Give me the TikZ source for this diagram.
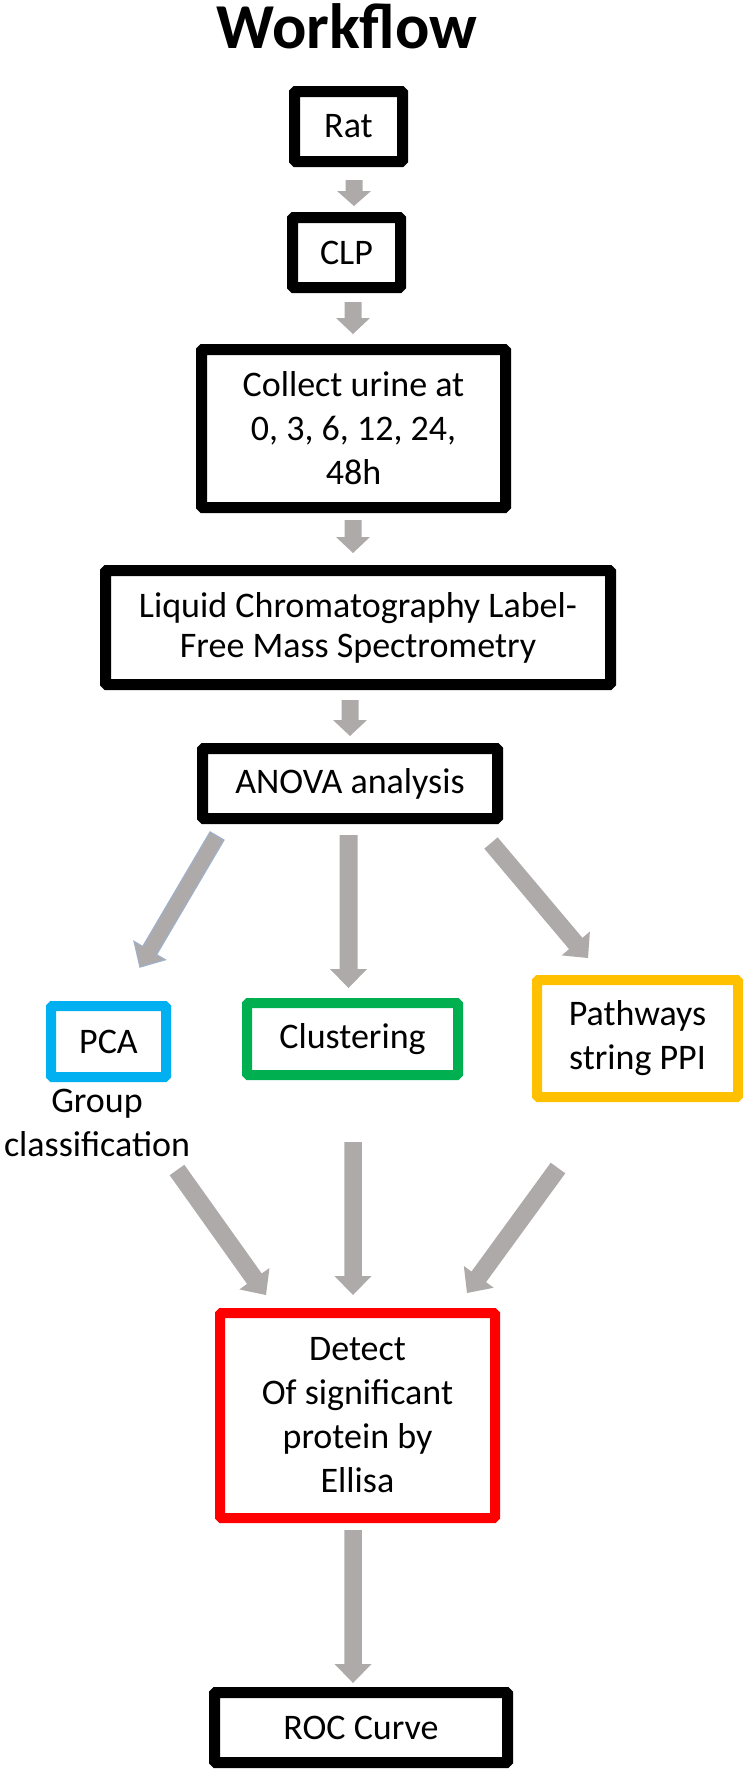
\documentclass[tikz,border=0pt]{standalone}
\usepackage{fontspec}
\setmainfont{Carlito}
\usetikzlibrary{calc}
\definecolor{arrowgray}{RGB}{174,170,170}
\definecolor{pcablue}{RGB}{0,176,240}
\definecolor{clgreen}{RGB}{0,176,80}
\definecolor{pathyellow}{RGB}{255,192,0}
\definecolor{detred}{RGB}{255,0,0}
\definecolor{outlineblue}{RGB}{160,176,200}
\newcommand\bodyfont{\fontsize{36}{44}\selectfont}
\newcommand\blockarr[6][]{%
  \coordinate (#3-hb) at ($(#3)!#6!(#2)$);
  \fill[arrowfill,#1] ($(#2)!#4!90:(#3)$) -- ($(#3-hb)!#4!90:(#3)$) -- ($(#3-hb)!#5!90:(#3)$) -- (#3) -- ($(#3-hb)!#5!-90:(#3)$) -- ($(#3-hb)!#4!-90:(#3)$) -- ($(#2)!#4!-90:(#3)$) -- cycle;
}
\tikzset{
  blackbox/.style={draw=black, line width=11pt, rounded corners=1.5pt, inner sep=0pt, align=center, font=\bodyfont},
  colorbox/.style={draw=#1, line width=10pt, rounded corners=1.5pt, inner sep=0pt, align=center, font=\bodyfont},
  plaintext/.style={inner sep=0pt, align=center, font=\bodyfont},
  titletext/.style={inner sep=0pt, font=\fontsize{64}{70}\selectfont\bfseries},
  arrowfill/.style={fill=arrowgray},
  outlined/.style={draw=outlineblue, line width=1.3pt},
}
\begin{document}
\begin{tikzpicture}[x=1pt,y=-1pt]
\useasboundingbox (0,0) rectangle (746,1772);

\node[titletext, anchor=base] (title) at (347,48) {Workflow};

\node[blackbox, minimum width=108pt, minimum height=70pt] (rat) at (348.5,126.5) {Rat};
\node[blackbox, minimum width=108pt, minimum height=70pt] (clp) at (346.5,252.5) {CLP};
\node[blackbox, minimum width=304pt, minimum height=158pt] (collect) at (353.5,428.5) {Collect urine at\\0, 3, 6, 12, 24,\\48h};
\node[blackbox, minimum width=505pt, minimum height=114pt] (lc) at (358,627.5) {Liquid Chromatography Label-\\[-4pt]Free Mass Spectrometry};
\node[blackbox, minimum width=295pt, minimum height=70pt] (anova) at (350,783.5) {ANOVA analysis};

\node[colorbox=pcablue, minimum width=115pt, minimum height=71pt] (pca) at (108.5,1041.5) {PCA};
\node[plaintext] (group) at (97,1123) {Group\\classification};
\node[colorbox=clgreen, minimum width=211pt, minimum height=72pt] (clust) at (352.5,1039) {Clustering};
\node[colorbox=pathyellow, minimum width=201pt, minimum height=117pt] (path) at (637.5,1038.5) {Pathways\\string PPI};

\node[colorbox=detred, minimum width=275pt, minimum height=205pt] (detect) at (357.5,1415.5) {Detect\\Of significant\\protein by\\Ellisa};
\node[blackbox, minimum width=293pt, minimum height=70pt] (roc) at (361,1727.5) {ROC Curve};

% arrow end points
\coordinate (a1s) at (354,180);  \coordinate (a1t) at (354,206);
\coordinate (a2s) at (353,302);  \coordinate (a2t) at (353,334);
\coordinate (a3s) at (353,520);  \coordinate (a3t) at (353,553);
\coordinate (a4s) at (350,700);  \coordinate (a4t) at (350,736);
\coordinate (b1s) at (217,836);  \coordinate (b1t) at (140,967);
\coordinate (b2s) at (348.5,835);  \coordinate (b2t) at (348.5,988);
\coordinate (b3s) at (491,843);  \coordinate (b3t) at (588,958);
\coordinate (c1s) at (177,1170); \coordinate (c1t) at (266,1295);
\coordinate (c2s) at (353,1142); \coordinate (c2t) at (353,1295);
\coordinate (c3s) at (558,1168); \coordinate (c3t) at (467,1293);
\coordinate (d1s) at (353,1530); \coordinate (d1t) at (353,1683);

\blockarr{a1s}{a1t}{8.5pt}{17pt}{15pt}
\blockarr{a2s}{a2t}{8.5pt}{17pt}{16pt}
\blockarr{a3s}{a3t}{8.5pt}{17pt}{16pt}
\blockarr{a4s}{a4t}{8.5pt}{17pt}{16pt}
\blockarr[outlined]{b1s}{b1t}{8pt}{18pt}{19pt}
\blockarr{b2s}{b2t}{9pt}{18.5pt}{19pt}
\blockarr{b3s}{b3t}{8.75pt}{18.5pt}{19pt}
\blockarr{c1s}{c1t}{9pt}{18.5pt}{20pt}
\blockarr{c2s}{c2t}{8.75pt}{18.5pt}{19pt}
\blockarr{c3s}{c3t}{9pt}{18.5pt}{20pt}
\blockarr{d1s}{d1t}{8.75pt}{18.5pt}{19pt}
\end{tikzpicture}
\end{document}
